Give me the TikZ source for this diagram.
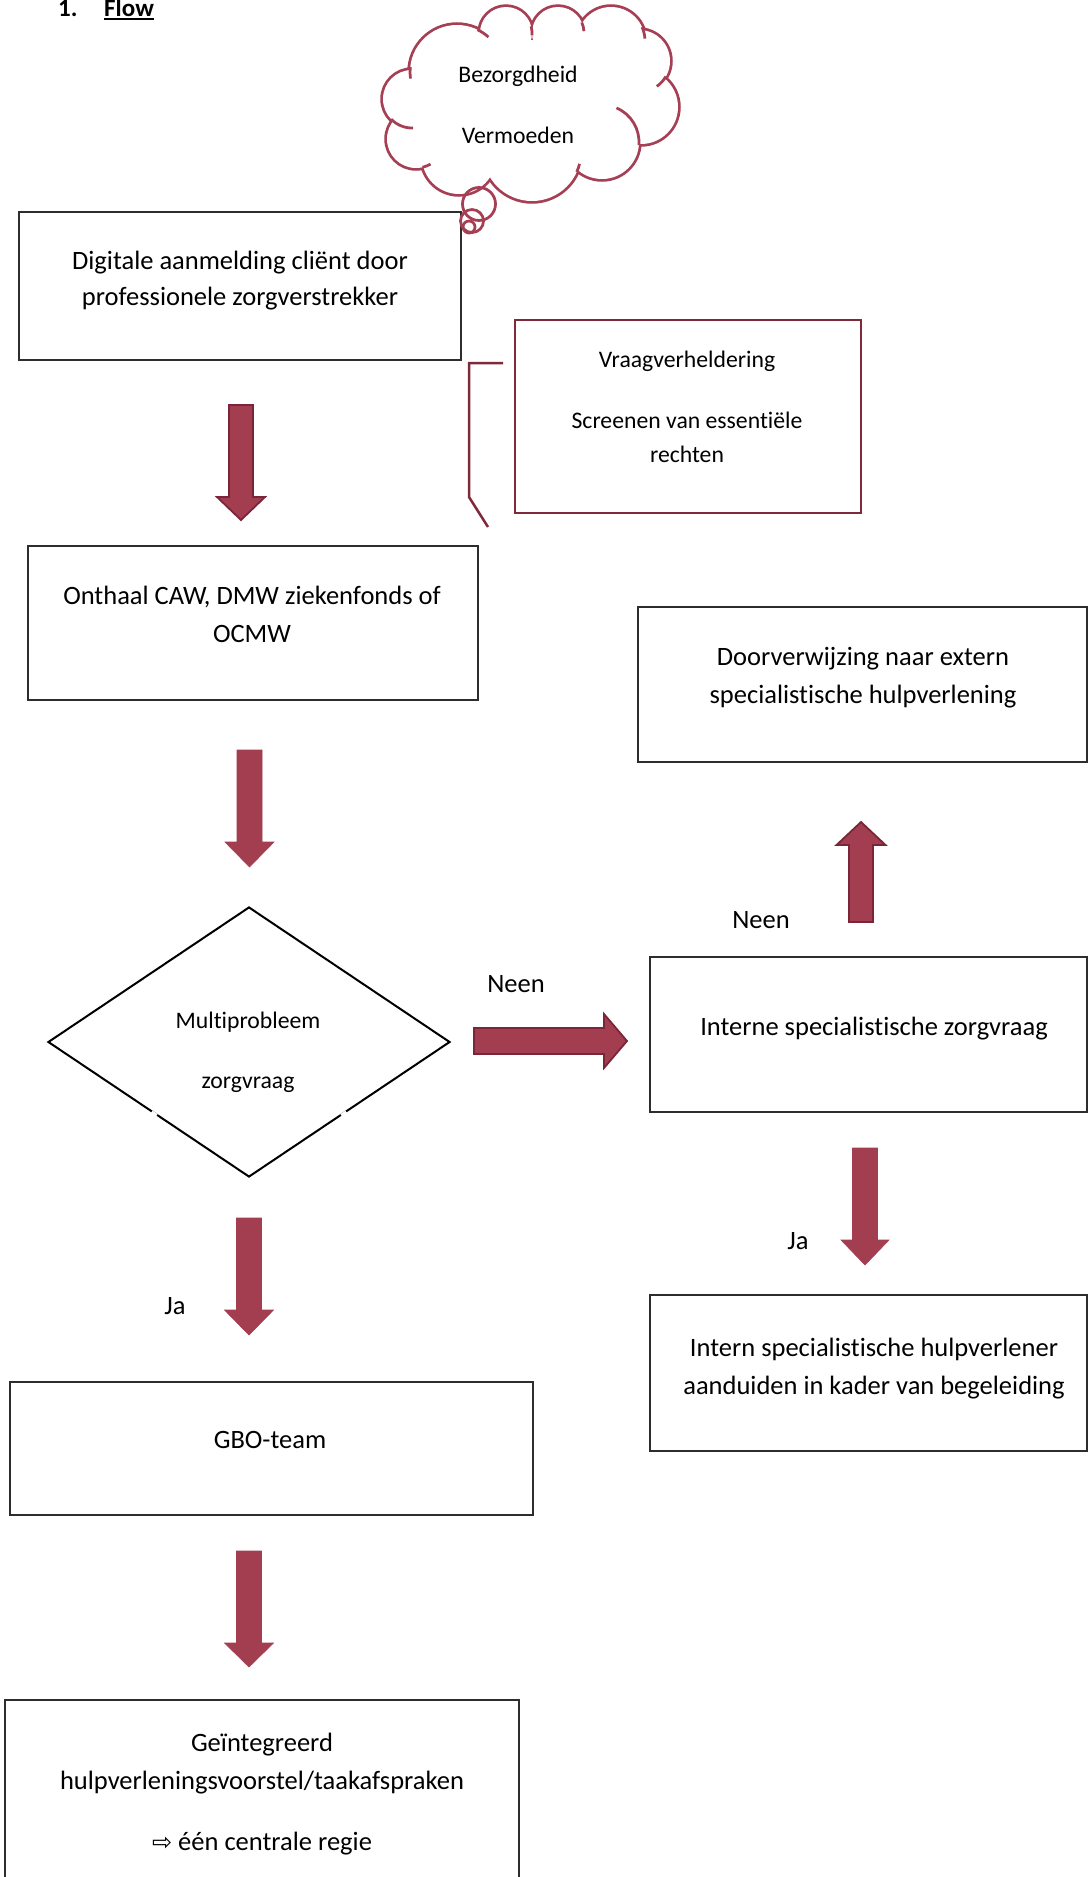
\documentclass[tikz,border=0pt]{standalone}
\usepackage{fontspec}
\setmainfont{Carlito}[RawFeature={-liga;-clig;-dlig;-calt}]
\newfontfamily\symfont{DejaVu Sans}
\usetikzlibrary{calc,shapes.geometric}
\definecolor{arrowfill}{RGB}{163,62,80}
\definecolor{arrowedge}{RGB}{122,38,56}
\definecolor{cloudcol}{RGB}{166,62,84}
\definecolor{vraagcol}{RGB}{127,42,58}
\definecolor{boxcol}{RGB}{45,45,45}
\tikzset{
  box/.style={draw=boxcol, line width=1.5pt, rectangle, inner sep=0pt, outer sep=0pt},
  bigtxt/.style={font=\fontsize{26.5}{32}\selectfont, anchor=base, inner sep=0pt},
  smalltxt/.style={font=\fontsize{23.7}{29}\selectfont, anchor=base, inner sep=0pt},
  blockarrow/.style={fill=arrowfill, draw=arrowfill, line width=0.6pt, line join=miter},
  blockarrowedge/.style={fill=arrowfill, draw=arrowedge, line width=1.8pt, line join=miter},
  cloudline/.style={draw=cloudcol, line width=2.75pt},
}
% style, cx, top, headbase, tip, shafthalf, headhalf
\newcommand{\vblock}[7]{\draw[#1] (#2-#6,#3) -- (#2+#6,#3) -- (#2+#6,#4) -- (#2+#7,#4) -- (#2,#5) -- (#2-#7,#4) -- (#2-#6,#4) -- cycle;}
% style, cy, left, headbase, tip, shafthalf, headhalf
\newcommand{\hblock}[7]{\draw[#1] (#3,#2-#6) -- (#4,#2-#6) -- (#4,#2-#7) -- (#5,#2) -- (#4,#2+#7) -- (#4,#2+#6) -- (#3,#2+#6) -- cycle;}
% cx, cy, r, a, b
\newcommand{\cloudhook}[5]{\draw[cloudline] ([shift={(#4:#3)}]#1,#2) arc[start angle=#4, end angle=#5, radius=#3];}
\newcommand{\cloudcircles}{(457,72) circle[radius=47] (506,33) circle[radius=26] (558,33) circle[radius=26] (611,41) circle[radius=34] (639,61) circle[radius=31] (641,107) circle[radius=37] (602,142) circle[radius=37] (532,152) circle[radius=49] (459,157) circle[radius=37] (416,139) circle[radius=29] (412,99) circle[radius=29]}
\begin{document}
\begin{tikzpicture}[x=1pt,y=-1pt]
\useasboundingbox[fill=white] (0,0) rectangle (1088,1877);

% title
\node[anchor=base west, font=\bfseries\fontsize{25}{30}\selectfont, inner sep=0pt] (num) at (58,16) {1.};
\node[anchor=base west, font=\bfseries\fontsize{25}{30}\selectfont, inner sep=0pt] (flow) at (104,16) {Flow};
\draw[line width=1.8pt] ([yshift=-3pt]flow.base west) -- ([yshift=-3pt]flow.base east);

% boxes
\node[box, minimum width=442pt, minimum height=148pt] (b1) at (240,286) {};
\node[box, minimum width=450pt, minimum height=154pt] (b2) at (253,623) {};
\node[box, minimum width=449pt, minimum height=155pt] (b3) at (862.5,684.5) {};
\node[box, minimum width=437pt, minimum height=155pt] (b4) at (868.5,1034.5) {};
\node[box, minimum width=437pt, minimum height=156pt] (b5) at (868.5,1373) {};
\node[box, minimum width=523pt, minimum height=133pt] (b6) at (271.5,1448.5) {};
\node[box, minimum width=514pt, minimum height=190pt] (b7) at (262,1795) {};
\node[rectangle, draw=vraagcol, line width=2.5pt, inner sep=0pt, minimum width=346pt, minimum height=193pt] (vraag) at (688,416.5) {};

% bracket
\coordinate (brA) at (503,363);
\coordinate (brB) at (469,363);
\coordinate (brC) at (469,497);
\coordinate (brD) at (488,527);
\draw[draw=vraagcol, line width=2.5pt] (brA) -- (brB) -- (brC) -- (brD);

% cloud
\draw[draw=cloudcol, line width=5.5pt] \cloudcircles;
\fill[white] \cloudcircles (525,100) ellipse[x radius=100, y radius=60];
\cloudhook{457}{72}{47}{172}{186}
\cloudhook{457}{72}{47}{296}{312}
\cloudhook{506}{33}{26}{345}{365}
\cloudhook{558}{33}{26}{336}{356}
\cloudhook{611}{41}{34}{336}{356}
\cloudhook{639}{61}{31}{30}{55}
\cloudhook{602}{142}{37}{293}{365}
\cloudhook{532}{152}{49}{14}{24}
\cloudhook{416}{139}{29}{60}{77}
\cloudhook{412}{99}{29}{88}{136}
\draw[cloudline] (479,204) circle[radius=16.5];
\draw[cloudline] (472,221) circle[radius=11.5];
\draw[cloudline] (469,227) circle[radius=6];
\node[smalltxt] (c1) at (518,82) {Bezorgdheid};
\node[smalltxt] (c2) at (518,143) {Vermoeden};

% diamond
\node[diamond, draw=black, line width=2pt, inner sep=0pt, minimum width=402pt, minimum height=270pt] (dia) at (249,1042) {};
\draw[white, line width=4pt] ($(dia.west)!0.517!(dia.south)$) -- ($(dia.west)!0.542!(dia.south)$);
\draw[white, line width=4pt] ($(dia.east)!0.517!(dia.south)$) -- ($(dia.east)!0.542!(dia.south)$);

% block arrows
\vblock{blockarrowedge}{241}{405}{497}{520}{12}{24}
\vblock{blockarrow}{249.5}{750}{842}{867}{12.5}{24.5}
\vblock{blockarrow}{249}{1218}{1310}{1335}{12.5}{24.5}
\vblock{blockarrow}{249}{1551}{1643}{1667}{12.5}{24.5}
\vblock{blockarrow}{865}{1148}{1240}{1265}{12.5}{24}
\vblock{blockarrowedge}{861}{922}{845}{822}{12}{24.5}
\hblock{blockarrowedge}{1041}{474}{604}{627}{13}{27}

% texts
\node[bigtxt] (t1a) at (240,269) {Digitale aanmelding cliënt door};
\node[bigtxt] (t1b) at (240,305) {professionele zorgverstrekker};
\node[smalltxt] (v1) at (687,367) {Vraagverheldering};
\node[smalltxt] (v2) at (687,428) {Screenen van essentiële};
\node[smalltxt] (v3) at (687,462) {rechten};
\node[bigtxt] (t2a) at (252,604) {Onthaal CAW, DMW ziekenfonds of};
\node[bigtxt] (t2b) at (252,642) {OCMW};
\node[bigtxt] (t3a) at (863,665) {Doorverwijzing naar extern};
\node[bigtxt] (t3b) at (863,703) {specialistische hulpverlening};
\node[bigtxt] (n1) at (761,928) {Neen};
\node[bigtxt] (n2) at (516,992) {Neen};
\node[smalltxt] (d1) at (248,1028) {Multiprobleem};
\node[smalltxt] (d2) at (248,1088) {zorgvraag};
\node[bigtxt] (t4) at (874,1035) {Interne specialistische zorgvraag};
\node[bigtxt] (j1) at (798,1249) {Ja};
\node[bigtxt] (j2) at (175,1314) {Ja};
\node[bigtxt] (t5a) at (874,1356) {Intern specialistische hulpverlener};
\node[bigtxt] (t5b) at (874,1394) {aanduiden in kader van begeleiding};
\node[bigtxt] (t6) at (270,1448) {GBO-team};
\node[bigtxt] (t7a) at (262,1751) {Geïntegreerd};
\node[bigtxt] (t7b) at (262,1789) {hulpverleningsvoorstel/taakafspraken};
\node[bigtxt] (t7c) at (262,1850) {{\symfont\fontsize{24}{28}\selectfont ⇨}\ één centrale regie};
\end{tikzpicture}
\end{document}
